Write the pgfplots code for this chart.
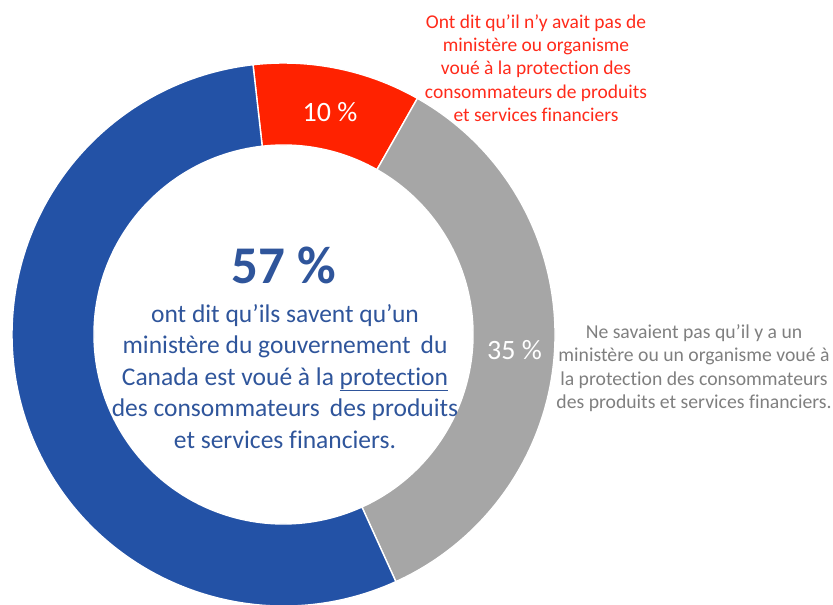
\documentclass[border=0pt]{standalone}
\usepackage{pgfplots}
\pgfplotsset{compat=1.18}
\usepackage{pgfplotstable}
\usepackage{fontspec}
\setmainfont{Carlito}[Ligatures=NoCommon]
\definecolor{ringblue}{HTML}{2352A6}
\definecolor{ringred}{HTML}{FF2200}
\definecolor{ringgray}{HTML}{A6A6A6}
\definecolor{txtblue}{HTML}{2F559B}
\definecolor{txtred}{HTML}{FF2A1A}
\definecolor{txtgray}{HTML}{7F7F7F}
\pgfplotstableread{
segment value
Red 10
Gray 35
Blue 55
}\donut
\newcommand{\cx}{283.5}
\newcommand{\cy}{334.5}
\newcommand{\sector}[3]{%
  \fill[#1, draw=white, line width=1.4pt]
    ([shift={(#2:271.5bp)}]axis cs:\cx,\cy)
    arc[start angle=#2, end angle=#3, radius=271.5bp]
    -- ([shift={(#3:189.5bp)}]axis cs:\cx,\cy)
    arc[start angle=#3, end angle=#2, radius=189.5bp] -- cycle;}
\newcommand{\prot}{protect\kern0pt ion}
\newcommand{\fin}{f\kern0pt inanciers}
\begin{document}
\begin{tikzpicture}
\pgfplotstablegetelem{0}{value}\of\donut \let\vA\pgfplotsretval
\pgfplotstablegetelem{1}{value}\of\donut \let\vB\pgfplotsretval
\pgfplotstablegetelem{2}{value}\of\donut \let\vC\pgfplotsretval
\pgfmathsetmacro{\aStart}{96.45}
\pgfmathsetmacro{\aRG}{\aStart-3.6*\vA}
\pgfmathsetmacro{\aGB}{\aRG-3.6*\vB}
\pgfmathsetmacro{\aEnd}{\aGB-3.6*\vC}
\begin{axis}[hide axis, scale only axis, width=833bp, height=605bp,
  xmin=0, xmax=833, ymin=0, ymax=605, y dir=reverse, clip=false]
\addplot[draw=none] coordinates {(0,0) (833,605)};
\coordinate (BL) at (axis cs:0,605);
\coordinate (TR) at (axis cs:833,0);
\sector{ringred}{\aStart}{\aRG}
\sector{ringgray}{\aRG}{\aGB}
\sector{ringblue}{\aGB}{\aEnd}
% segment labels
\node[anchor=base, inner sep=0, text=white, font=\fontsize{28bp}{33bp}\selectfont] at (axis cs:330,121.5) {10 \%};
\node[anchor=base, inner sep=0, text=white, font=\fontsize{28bp}{33bp}\selectfont] at (axis cs:514.5,359) {35 \%};
% centre text
\node[anchor=base, inner sep=0, text=txtblue, font=\fontsize{53bp}{60bp}\selectfont\bfseries] at (axis cs:284,283) {57 \%};
\begin{scope}[every node/.style={anchor=base, inner sep=0, text=txtblue, font=\fontsize{25.5bp}{31.5bp}\selectfont}]
\node at (axis cs:285,322) {ont dit qu’ils savent qu’un};
\node at (axis cs:285,353.5) {ministère du gouvernement\, du};
\node at (axis cs:285,385) {Canada est voué à la \underline{\prot}};
\node at (axis cs:285,416.5) {des consommateurs\, des produits};
\node at (axis cs:285,448) {et services \fin.};
\end{scope}
% red annotation
\begin{scope}[every node/.style={anchor=base, inner sep=0, text=txtred, font=\fontsize{19.5bp}{23.5bp}\selectfont}]
\node at (axis cs:536,28.3) {Ont dit qu’il n’y avait pas de};
\node at (axis cs:536,51.7) {ministère ou organisme};
\node at (axis cs:536,75) {voué à la \prot\ des};
\node at (axis cs:536,98.4) {consommateurs de produits};
\node at (axis cs:536,121.7) {et services \fin};
\end{scope}
% gray annotation
\begin{scope}[every node/.style={anchor=base, inner sep=0, text=txtgray, font=\fontsize{19.7bp}{23.5bp}\selectfont}]
\node at (axis cs:694,338.3) {Ne savaient pas qu’il y a un};
\node at (axis cs:694,361.6) {ministère ou un organisme voué à};
\node at (axis cs:694,385) {la \prot\ des consommateurs};
\node at (axis cs:694,408.3) {des produits et services \fin.};
\end{scope}
\end{axis}
\pgfresetboundingbox
\path (BL) rectangle (TR);
\end{tikzpicture}
\end{document}
